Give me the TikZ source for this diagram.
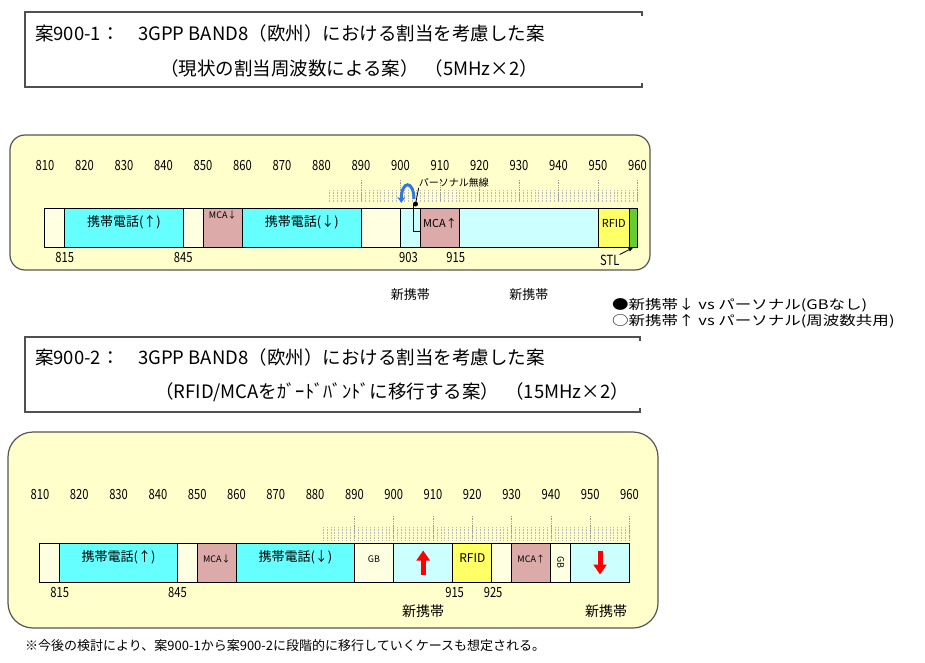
\documentclass[tikz,border=0pt]{standalone}
\usepackage{fontspec}
\setmainfont{Noto Sans CJK JP}
\newfontfamily\wideJP[FakeStretch=1.25]{Noto Sans CJK JP}
\newfontfamily\narrowJP[FakeStretch=0.8]{Noto Sans CJK JP}
\usetikzlibrary{positioning, fit, arrows.meta}

\begin{document}
\begin{tikzpicture}[
    x=1pt, y=-1pt,
    >=Stealth, % Pfeilspitzen
    % --- Farben der Frequenzbereiche ---
    panelFill/.style={fill={rgb,255:red,255;green,255;blue,204}, draw={rgb,255:red,85;green,85;blue,85}, line width=1.2pt},
    freeFill/.style={fill={rgb,255:red,255;green,255;blue,226}},
    mobFill/.style={fill={rgb,255:red,102;green,255;blue,255}},
    newFill/.style={fill={rgb,255:red,204;green,255;blue,255}},
    mcaFill/.style={fill={rgb,255:red,221;green,170;blue,170}},
    rfidFill/.style={fill={rgb,255:red,255;green,255;blue,102}},
    stlFill/.style={fill={rgb,255:red,102;green,204;blue,51}},
    % --- Node-Stile ---
    titleFrame/.style={draw={rgb,255:red,80;green,80;blue,80}, line width=1.5pt},
    titleText/.style={anchor=west, inner sep=0pt, font=\fontsize{18.5}{20}\selectfont},
    cell/.style={draw=black, line width=1pt, inner sep=0pt, font=\fontsize{13}{15}\selectfont},
    smallText/.style={inner sep=0pt, font=\fontsize{9}{10}\selectfont},
    scaleLabel/.style={inner sep=0pt, font=\narrowJP\fontsize{14}{15}\selectfont},
    newLabel/.style={inner sep=0pt, font=\fontsize{14}{16}\selectfont},
    legendText/.style={anchor=west, inner sep=0pt, font=\wideJP\fontsize{13.2}{15}\selectfont},
    noteText/.style={anchor=west, inner sep=0pt, font=\fontsize{13}{14}\selectfont},
    % --- Linienstile ---
    tickMajor/.style={draw=gray!80, densely dotted, line width=0.7pt},
    tickMinor/.style={draw=gray!55, densely dotted, line width=0.6pt},
    leader/.style={draw=black, line width=0.8pt},
    dot/.style={circle, fill=black, inner sep=0pt, minimum size=5pt},
    shareArc/.style={draw={rgb,255:red,51;green,119;blue,221}, line width=3pt},
    bigArrow/.style={draw=red, line width=5pt, -{Triangle[width=13pt, length=10pt]}}
]
    \fill[white] (0,0) rectangle (925,663);
    \useasboundingbox (0,0) rectangle (925,663);

    % ===========================
    % 1. TITEL 900-1
    % ===========================
    \draw[titleFrame] (642,16) -- (642,12) -- (25,12) -- (25,87) -- (642,87) -- (642,83);
    \node[titleText] (T1a) at (35,33) {案900-1：　3GPP BAND8（欧州）における割当を考慮した案};
    \node[titleText] (T1b) at (160,68) {（現状の割当周波数による案）\hspace{6pt}（5MHz×2）};

    % ===========================
    % 2. PANEL 900-1
    % ===========================
    \draw[panelFill, rounded corners=15pt] (10,135) rectangle (650,270);

    \begin{scope}[x=3.95pt, xshift=-3154.5pt]
        % Skala
        \foreach \f in {810,820,...,960}
            \node[scaleLabel] (a\f) at (\f,166) {\f};
        \foreach \f in {882,...,960}
            \draw[tickMinor] (\f,190) -- (\f,202);
        \foreach \f in {890,900,...,960}
            \draw[tickMajor] (\f,180) -- (\f,202);

        % Frequenzbereiche
        \node[cell, freeFill, fit={(810,208) (815,247)}] (aFree1) {};
        \node[cell, mobFill,  fit={(815,208) (845,247)}] (aUp) {携帯電話(↑)};
        \node[cell, freeFill, fit={(845,208) (850,247)}] (aFree2) {};
        \node[cell, mcaFill,  fit={(850,208) (860,247)}] (aMcaDn) {};
        \node[cell, mobFill,  fit={(860,208) (890,247)}] (aDn) {携帯電話(↓)};
        \node[cell, freeFill, fit={(890,208) (900,247)}] (aFree3) {};
        \node[cell, newFill,  fit={(900,208) (905,247)}] (aPers) {};
        \node[cell, mcaFill,  fit={(905,208) (915,247)}, font=\fontsize{11}{12}\selectfont] (aMcaUp) {MCA↑};
        \node[cell, newFill,  fit={(915,208) (950,247)}] (aNew) {};
        \node[cell, rfidFill, fit={(950,208) (958,247)}, font=\fontsize{11}{12}\selectfont] (aRfid) {RFID};
        \node[cell, stlFill,  fit={(958,208) (960,247)}] (aStl) {};
        \node[smallText, below=3pt of aMcaDn.north] (aMcaDnT) {MCA↓};

        % Grenzwerte unter dem Balken
        \node[scaleLabel] (b815) at (815,258) {815};
        \node[scaleLabel] (b845) at (845,258) {845};
        \node[scaleLabel] (b903) at (902,258) {903};
        \node[scaleLabel] (b915) at (914,258) {915};
        \node[scaleLabel] (aStlT) at (953,260) {STL};

        % Pers. Funk: Markierung, Bogen, Hinweislinien
        \node[dot] (pDot) at (903.8,204) {};
        \node[smallText, anchor=west, font=\fontsize{10}{11}\selectfont] (pLabel) at (904.6,183) {パーソナル無線};
        \draw[shareArc, {Stealth[length=6pt, width=8pt]}-] (900.2,203) .. controls (900.2,180) and (903.4,180) .. (903.4,199);
        \draw[leader] (pDot.center) -- (pLabel.south west);
        \draw[leader] ([xshift=-2pt]pDot.center) |- ([yshift=-4pt]aMcaUp.west);
        \draw[leader, -{Latex[length=5pt, width=4pt]}] (aStlT.north east) -- (aStl.south);

        % neue Mobilfunkbereiche
        \node[newLabel, font=\fontsize{13}{14}\selectfont, below=41pt of aPers.south] (aNewT1) {新携帯};
        \node[newLabel, font=\fontsize{13}{14}\selectfont, below=41pt of aNew.south] (aNewT2) {新携帯};
    \end{scope}

    % Legende
    \node[legendText] (L1) at (612,305) {●新携帯↓ vs パーソナル(GBなし)};
    \node[legendText] (L2) at (612,321) {○新携帯↑ vs パーソナル(周波数共用)};

    % ===========================
    % 3. TITEL 900-2
    % ===========================
    \draw[titleFrame] (640,341) -- (640,337) -- (25,337) -- (25,412) -- (640,412) -- (640,408);
    \node[titleText] (T2a) at (35,357) {案900-2：　3GPP BAND8（欧州）における割当を考慮した案};
    \node[titleText] (T2b) at (155,392) {（RFID/MCAをｶﾞｰﾄﾞﾊﾞﾝﾄﾞに移行する案）\hspace{6pt}（15MHz×2）};

    % ===========================
    % 4. PANEL 900-2
    % ===========================
    \draw[panelFill, rounded corners=25pt] (8,432) rectangle (658,628);

    \begin{scope}[x=3.93pt, xshift=-3143.3pt]
        % Skala
        \foreach \f in {810,820,...,960}
            \node[scaleLabel] (c\f) at (\f,495) {\f};
        \foreach \f in {882,...,960}
            \draw[tickMinor] (\f,527) -- (\f,540);
        \foreach \f in {890,900,...,960}
            \draw[tickMajor] (\f,516) -- (\f,540);

        % Frequenzbereiche
        \node[cell, freeFill, fit={(810,543) (815,582)}] (bFree1) {};
        \node[cell, mobFill,  fit={(815,543) (845,582)}] (bUp) {携帯電話(↑)};
        \node[cell, freeFill, fit={(845,543) (850,582)}] (bFree2) {};
        \node[cell, mcaFill,  fit={(850,543) (860,582)}, font=\fontsize{9}{10}\selectfont] (bMcaDn) {MCA↓};
        \node[cell, mobFill,  fit={(860,543) (890,582)}] (bDn) {携帯電話(↓)};
        \node[cell, freeFill, fit={(890,543) (900,582)}, font=\fontsize{9}{10}\selectfont] (bGB1) {GB};
        \node[cell, newFill,  fit={(900,543) (915,582)}] (bNewUp) {};
        \node[cell, rfidFill, fit={(915,543) (925,582)}, font=\fontsize{12}{13}\selectfont] (bRfid) {RFID};
        \node[cell, freeFill, fit={(925,543) (930,582)}] (bFree3) {};
        \node[cell, mcaFill,  fit={(930,543) (940,582)}, font=\fontsize{9}{10}\selectfont] (bMcaUp) {MCA↑};
        \node[cell, freeFill, fit={(940,543) (945,582)}] (bGB2) {};
        \node[cell, newFill,  fit={(945,543) (960,582)}] (bNewDn) {};
        \node[smallText, rotate=-90] (bGB2T) at (bGB2.center) {GB};

        % Pfeile fuer neue Bereiche
        \draw[bigArrow] ([yshift=-12pt]bNewUp.center) -- ([yshift=12pt]bNewUp.center);
        \draw[bigArrow] ([yshift=12pt]bNewDn.center) -- ([yshift=-12pt]bNewDn.center);

        % Grenzwerte unter dem Balken
        \node[scaleLabel] (d815) at (815,593) {815};
        \node[scaleLabel] (d845) at (845,593) {845};
        \node[scaleLabel] (d915) at (915.5,593) {915};
        \node[scaleLabel] (d925) at (925.3,593) {925};

        \node[newLabel, below=22pt of bNewUp.south] (bNewT1) {新携帯};
        \node[newLabel, below=22pt of bNewDn.south, xshift=6pt] (bNewT2) {新携帯};
    \end{scope}

    % Fussnote
    \node[noteText] (note) at (25,646) {※今後の検討により、案900-1から案900-2に段階的に移行していくケースも想定される。};

\end{tikzpicture}
\end{document}
